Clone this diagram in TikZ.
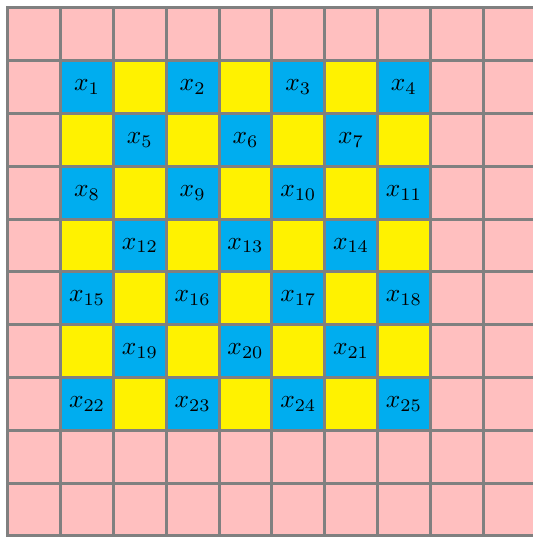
\documentclass[tikz,border=0pt]{standalone}
\begin{document}
\begin{tikzpicture}[x=1cm,y=1cm,
  cellbox/.style={draw=gray,line width=1.6pt,minimum size=1cm,inner sep=0pt,outer sep=0pt},
  pinkcell/.style={cellbox,fill=pink},
  bluecell/.style={cellbox,fill=cyan},
  yellowcell/.style={cellbox,fill=yellow}]
\useasboundingbox (-0.15,-10.04) rectangle (9.94,0.15);
\foreach \r in {0,...,9}{
  \foreach \c in {0,...,9}{
    \node[pinkcell] (p\r-\c) at (\c+0.5,-\r-0.5) {};
  }
}
\foreach \r in {1,...,7}{
  \foreach \c in {1,...,7}{
    \pgfmathtruncatemacro{\parity}{mod(\r+\c,2)}
    \ifnum\parity=0
      \pgfmathtruncatemacro{\idx}{(\r-1)*7+\c}
      \pgfmathtruncatemacro{\num}{(\idx+1)/2}
      \node[bluecell] (c\r-\c) at (\c+0.5,-\r-0.5) {\scalebox{1.37}{$x_{\num}$}};
    \else
      \node[yellowcell] (c\r-\c) at (\c+0.5,-\r-0.5) {};
    \fi
  }
}
\end{tikzpicture}
\end{document}
